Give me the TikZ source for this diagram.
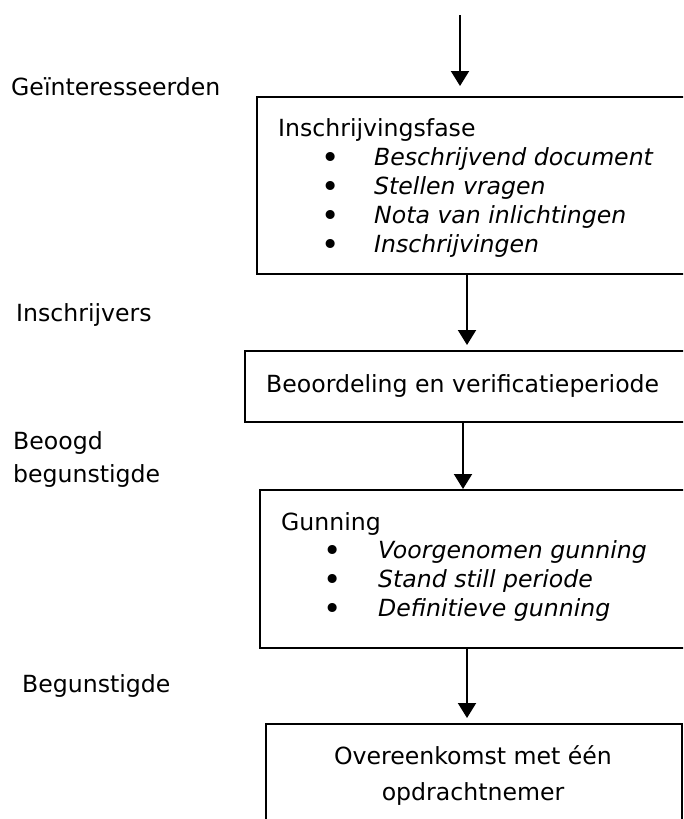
\documentclass[tikz,border=0pt]{standalone}
\usepackage{fontspec}
\setmainfont{DejaVu Sans}
\usetikzlibrary{arrows.meta}
\newcommand\dfs{\fontsize{23.6pt}{29pt}\selectfont}
\newcommand\bfs{\fontsize{31pt}{31pt}\selectfont}
\begin{document}
\begin{tikzpicture}[x=1pt,y=-1pt,
  box/.style={draw, line width=1.7pt, inner sep=0pt, anchor=north west},
  lbl/.style={inner sep=0pt, anchor=base west, font=\dfs},
  ctr/.style={inner sep=0pt, anchor=base, font=\dfs},
  bul/.style={inner sep=0pt, anchor=base, font=\bfs, yshift=-3pt},
  itm/.style={inner sep=0pt, anchor=base west, font=\dfs\itshape},
  arr/.style={line width=2pt, -{Triangle[width=18pt,length=15pt]}}]
\useasboundingbox (0,0) rectangle (683,819);
\clip (0,0) rectangle (683,819);

% boxes
\node[box, minimum width=470pt, minimum height=177pt] (b1) at (256,96) {};
\node[box, minimum width=480pt, minimum height=71pt] (b2) at (244,350) {};
\node[box, minimum width=470pt, minimum height=158pt] (b3) at (259,489) {};
\node[box, minimum width=416pt, minimum height=130pt] (b4) at (265,723) {};

% box 1 text
\node[lbl] (h1) at (278,136) {Inschrijvingsfase};
\node[bul] (p1) at (331,165) {•};
\node[itm] (i1) at (374,165) {Beschrijvend document};
\node[bul] (p2) at (331,194) {•};
\node[itm] (i2) at (374,194) {Stellen vragen};
\node[bul] (p3) at (331,223) {•};
\node[itm] (i3) at (374,223) {Nota van inlichtingen};
\node[bul] (p4) at (331,252) {•};
\node[itm] (i4) at (374,252) {Inschrijvingen};

% box 2 text
\node[lbl] (h2) at (266,392) {Beoordeling en verificatieperiode};

% box 3 text
\node[lbl] (h3) at (281,530) {Gunning};
\node[bul] (q1) at (333,558) {•};
\node[itm] (j1) at (378,558) {Voorgenomen gunning};
\node[bul] (q2) at (333,587) {•};
\node[itm] (j2) at (378,587) {Stand still periode};
\node[bul] (q3) at (333,616) {•};
\node[itm] (j3) at (378,616) {Definitieve gunning};

% box 4 text
\node[ctr] (o1) at (473,764) {Overeenkomst met één};
\node[ctr] (o2) at (473,800) {opdrachtnemer};

% left labels
\node[lbl] (l1) at (11,95) {Geïnteresseerden};
\node[lbl] (l2) at (16,321) {Inschrijvers};
\node[lbl] (l3) at (13,449) {Beoogd};
\node[lbl] (l4) at (13,482) {begunstigde};
\node[lbl] (l5) at (22,692) {Begunstigde};

% arrows
\coordinate (t0) at (460,15);
\coordinate (c2) at (467,0);
\coordinate (c3) at (463,0);
\coordinate (c4) at (467,0);
\draw[arr, shorten >=10pt] (t0) -- (t0 |- b1.north);
\draw[arr, shorten >=5pt] (c2 |- b1.south) -- (c2 |- b2.north);
\draw[arr] (c3 |- b2.south) -- (c3 |- b3.north);
\draw[arr, shorten >=5pt] (c4 |- b3.south) -- (c4 |- b4.north);
\end{tikzpicture}
\end{document}
